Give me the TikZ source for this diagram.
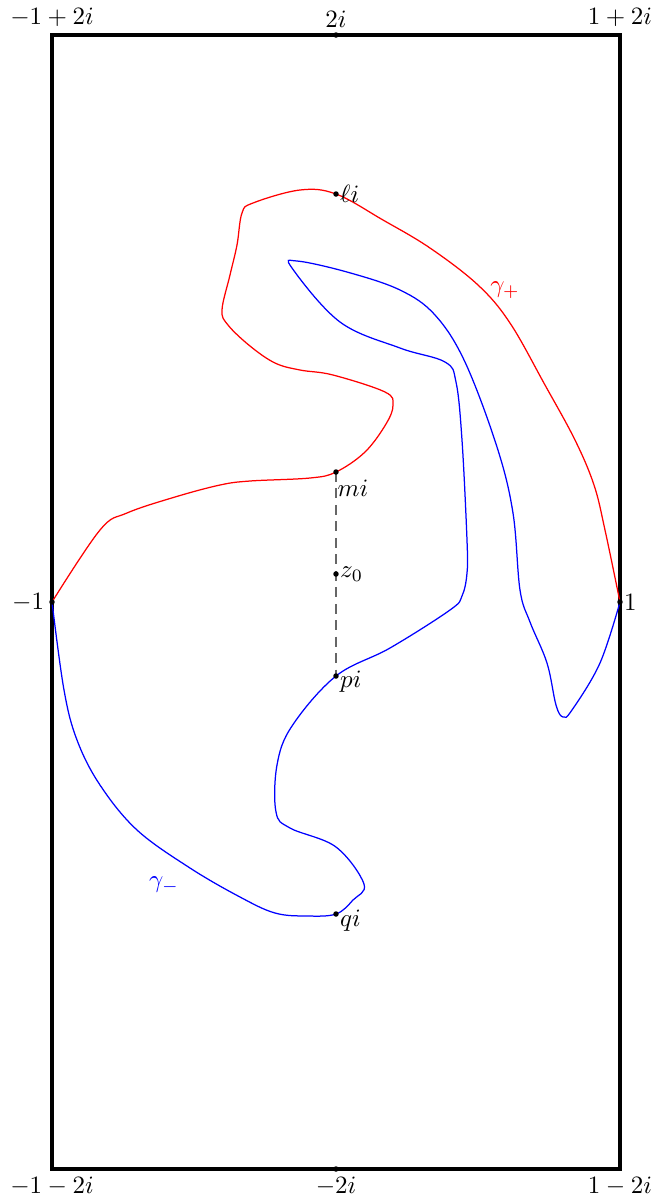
\documentclass[tikz,border=0pt]{standalone}
\begin{document}
\begin{tikzpicture}[x=0.014085cm,y=-0.014085cm,
  frame/.style={line width=1.4pt},
  dotp/.style={circle,fill=black,inner sep=0pt,minimum size=2.2pt},
  lab/.style={inner sep=3pt},
  curveplus/.style={red,line width=0.5pt},
  curveminus/.style={blue,line width=0.5pt},
  cutline/.style={black!60,line width=0.6pt,dash pattern=on 4pt off 2.6pt}]
\useasboundingbox (0,0) rectangle (653,1202);
% frame
\coordinate (tl) at (52,35);
\coordinate (tr) at (620,35);
\coordinate (bl) at (52,1169);
\coordinate (br) at (620,1169);
\draw[frame] (tl) rectangle (br);
% special points
\coordinate (mone) at (52,602);
\coordinate (one) at (620,602);
\coordinate (li) at (336,194);
\coordinate (mi) at (336,472);
\coordinate (zz) at (336,574);
\coordinate (pi) at (336,676);
\coordinate (qi) at (336,914);
\coordinate (tt) at (336,35);
\coordinate (bb) at (336,1169);
% dashed segment
\draw[cutline] (mi) -- (pi);
% gamma plus
\draw[curveplus] plot[smooth,tension=0.6] coordinates {
 (mone) (100,530) (127,513) (175,497) (220,485) (250,481) (310,478) (mi)
 (365,452) (386,424) (393,405) (385,392) (333,375) (300,370) (275,363)
 (250,346) (228,325) (222,310) (230,275) (237,245) (242,213) (253,203) (300,190) (li)
 (383,220) (430,248) (478,285) (510,323) (545,385) (575,440) (594,485) (605,530) (one)};
% gamma minus
\draw[curveminus] plot[smooth,tension=0.6] coordinates {
 (mone) (64,690) (77,740) (100,785) (137,830) (190,868) (240,897) (275,913) (307,916) (qi)
 (353,900) (364,884) (336,847) (290,828) (276,812) (277,765) (292,726) (pi)
 (390,648) (450,610) (462,596) (467,573) (467,540) (462,440) (456,382) (445,362) (400,348)
 (340,322) (292,268) (297,261) (347,272) (400,290) (435,315) (465,362) (497,447)
 (513,513) (520,590) (530,622) (547,663) (556,705) (563,717) (572,710) (600,663) (one)};
% dots
\foreach \p in {mone,one,li,mi,zz,pi,qi,tt,bb} \node[dotp] at (\p) {};
% labels
\node[lab,above] (ltl) at (tl) {$-1+2i$};
\node[lab,above] (ltt) at (tt) {$2i$};
\node[lab,above] (ltr) at (tr) {$1+2i$};
\node[lab,below] (lbl) at (bl) {$-1-2i$};
\node[lab,below] (lbb) at (bb) {$-2i$};
\node[lab,below] (lbr) at (br) {$1-2i$};
\node[lab,left] (lmone) at (mone) {$-1$};
\node[lab,right,inner sep=1.5pt] (lone) at (one) {$1$};
\node[lab,right,inner sep=1.5pt] (lli) at (li) {$\ell i$};
\node[lab,anchor=north west,inner sep=0.5pt,yshift=-2.5pt] (lmi) at (mi) {$mi$};
\node[lab,right,inner sep=1.5pt] (lzz) at (zz) {$z_0$};
\node[lab,anchor=west,inner sep=1.5pt,yshift=-2.4pt] (lpi) at (pi) {$pi$};
\node[lab,anchor=west,inner sep=1.5pt,yshift=-2.6pt] (lqi) at (qi) {$qi$};
\node[red] (gp) at (505,290) {$\gamma_+$};
\node[blue] (gm) at (164,885) {$\gamma_-$};
\end{tikzpicture}
\end{document}
